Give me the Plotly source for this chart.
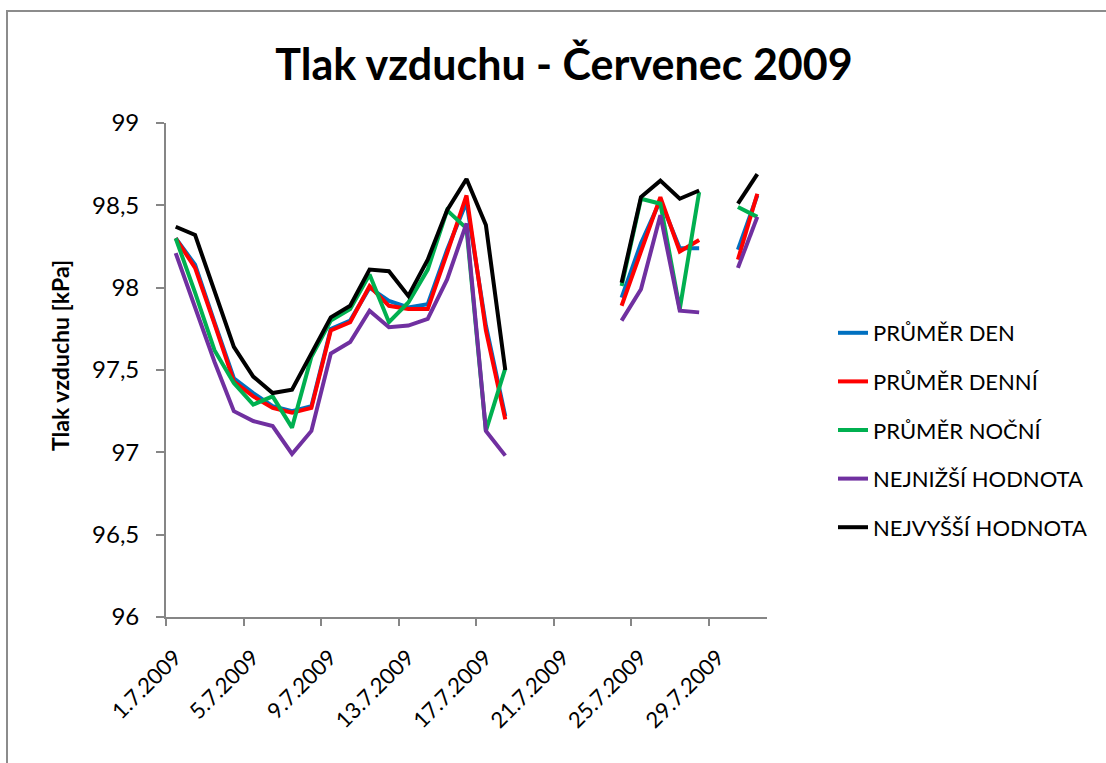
import plotly.graph_objects as go

# Daily air pressure readings for July 2009 (kPa); None = no measurement that day
dates = [f"2009-07-{d:02d}" for d in range(1, 32)]

prumer_den = [
    98.30, 98.14, 97.79, 97.45, 97.36, 97.28, 97.25, 97.28, 97.75, 97.80,
    98.00, 97.92, 97.88, 97.90, 98.23, 98.52, 97.77, 97.22,
    None, None, None, None, None,
    97.94, 98.27, 98.53, 98.24, 98.24,
    None,
    98.23, 98.56,
]
prumer_denni = [
    98.30, 98.12, 97.78, 97.43, 97.34, 97.27, 97.24, 97.27, 97.74, 97.79,
    98.01, 97.89, 97.87, 97.87, 98.21, 98.56, 97.74, 97.20,
    None, None, None, None, None,
    97.89, 98.22, 98.55, 98.22, 98.29,
    None,
    98.17, 98.57,
]
prumer_nocni = [
    98.30, 97.97, 97.62, 97.42, 97.29, 97.34, 97.15, 97.58, 97.80, 97.87,
    98.08, 97.79, 97.91, 98.11, 98.47, 98.36, 97.13, 97.51,
    None, None, None, None, None,
    98.01, 98.54, 98.51, 97.87, 98.58,
    None,
    98.49, 98.43,
]
nejnizsi = [
    98.21, 97.88, 97.55, 97.25, 97.19, 97.16, 96.99, 97.13, 97.60, 97.67,
    97.86, 97.76, 97.77, 97.81, 98.05, 98.39, 97.13, 96.98,
    None, None, None, None, None,
    97.80, 97.99, 98.44, 97.86, 97.85,
    None,
    98.12, 98.43,
]
nejvyssi = [
    98.37, 98.32, 97.98, 97.64, 97.46, 97.36, 97.38, 97.60, 97.82, 97.89,
    98.11, 98.10, 97.95, 98.17, 98.47, 98.66, 98.38, 97.50,
    None, None, None, None, None,
    98.03, 98.55, 98.65, 98.54, 98.59,
    None,
    98.51, 98.69,
]

series_names = ["PRŮMĚR DEN", "PRŮMĚR DENNÍ", "PRŮMĚR NOČNÍ",
                "NEJNIŽŠÍ HODNOTA", "NEJVYŠŠÍ HODNOTA"]
series_values = [prumer_den, prumer_denni, prumer_nocni, nejnizsi, nejvyssi]
series_colors = ["#0070C0", "#FF0000", "#00B050", "#7030A0", "#000000"]

tick_dates = ["2009-07-01", "2009-07-05", "2009-07-09", "2009-07-13",
              "2009-07-17", "2009-07-21", "2009-07-25", "2009-07-29"]
tick_labels = ["1.7.2009", "5.7.2009", "9.7.2009", "13.7.2009",
               "17.7.2009", "21.7.2009", "25.7.2009", "29.7.2009"]

FONT = "Lato, 'Open Sans', 'DejaVu Sans', sans-serif"
W, H = 1106, 763
ML, MR, MT, MB = 166, 339, 123, 146
PW, PH = W - ML - MR, H - MT - MB

fig = go.Figure()
for i, (name, vals, col) in enumerate(zip(series_names, series_values, series_colors)):
    fig.add_trace(go.Scatter(
        x=dates, y=vals, name=name, mode="lines",
        line=dict(color=col, width=4),
        xperiod=86400000, xperiodalignment="middle",
        legendgroup=f"g{i}",
    ))

axis_col = "#868686"

fig.update_layout(
    width=W, height=H,
    margin=dict(l=ML, r=MR, t=MT, b=MB),
    paper_bgcolor="white", plot_bgcolor="white",
    separators=", ",
    font=dict(family=FONT, color="#000000"),
    title=dict(
        text="<b>Tlak vzduchu - Červenec 2009</b>",
        x=564 / W, xanchor="center", xref="container",
        y=1 - 65 / H, yanchor="middle",
        font=dict(size=43, family=FONT, color="#000000"),
    ),
    xaxis=dict(
        type="date",
        range=["2009-07-01", "2009-08-01"],
        tickmode="array", tickvals=tick_dates, ticktext=tick_labels,
        tickangle=-45, ticks="outside", ticklen=7, tickwidth=1.5,
        tickcolor=axis_col, showline=True, linecolor=axis_col, linewidth=1.8,
        showgrid=False, zeroline=False,
        tickfont=dict(size=22, family=FONT, color="#000000"),
        ticklabelshift=9, ticklabelstandoff=10,
    ),
    yaxis=dict(
        range=[96, 99], dtick=0.5, tick0=96,
        ticks="outside", ticklen=8, tickwidth=1.5, tickcolor=axis_col,
        showline=True, linecolor=axis_col, linewidth=1.8,
        showgrid=False, zeroline=False,
        tickfont=dict(size=24, family=FONT, color="#000000"),
        ticklabelstandoff=12,
    ),
    legend=dict(
        x=(833 - ML) / PW, xanchor="left",
        y=(H - MB - 312) / PH, yanchor="top",
        font=dict(size=22, family=FONT, color="#000000"),
        traceorder="grouped", tracegroupgap=17,
        bgcolor="rgba(0,0,0,0)",
    ),
    annotations=[dict(
        text="<b>Tlak vzduchu [kPa]</b>", textangle=-90,
        xref="paper", yref="paper",
        x=(60 - ML) / PW, y=(H - MB - 356) / PH,
        xanchor="center", yanchor="middle", showarrow=False,
        font=dict(size=23, family=FONT, color="#000000"),
    )],
    shapes=[dict(
        type="rect", xref="paper", yref="paper",
        x0=(7 - ML) / PW, x1=(W + 20 - ML) / PW,
        y0=(H - MB - (H + 20)) / PH, y1=(H - MB - 11) / PH,
        line=dict(color="#8c8c8c", width=2), fillcolor="rgba(0,0,0,0)",
        layer="below",
    )],
)

fig.write_html("out.html")
